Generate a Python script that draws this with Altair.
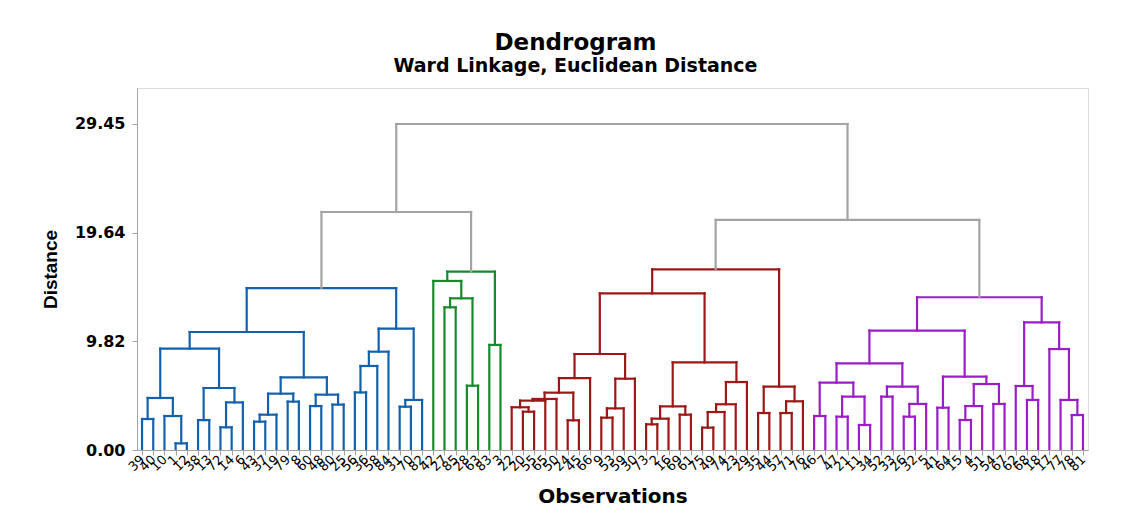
import altair as alt
import pandas as pd

# ---------------- data ----------------
blue_labels = [39, 40, 10, 1, 12, 38, 13, 72, 14, 6, 43, 37, 19, 79, 8, 60, 48, 80, 25, 56, 36, 58, 84, 31, 70, 82]
green_labels = [42, 27, 85, 28, 63, 83, 3]
red_labels = [22, 20, 55, 65, 50, 24, 45, 66, 9, 53, 59, 30, 73, 2, 16, 69, 61, 75, 49, 74, 23, 29, 35, 44, 57, 71, 76]
purple_labels = [46, 7, 47, 21, 11, 34, 52, 33, 26, 32, 5, 41, 64, 15, 4, 51, 54, 67, 62, 68, 18, 17, 77, 78, 81]
leaf_labels = blue_labels + green_labels + red_labels + purple_labels

# merges: (name, left child, right child, height); ints are leaf positions
blue_merges = [
    ("B1", 0, 1, 2.80), ("B2", 3, 4, 0.60), ("B3", 2, "B2", 3.07), ("B4", "B1", "B3", 4.70),
    ("B5", 5, 6, 2.70), ("B6", 7, 8, 2.05), ("B7", "B6", 9, 4.30), ("B8", "B5", "B7", 5.60),
    ("B9", "B4", "B8", 9.15), ("B10", 10, 11, 2.56), ("B11", "B10", 12, 3.19), ("B12", 13, 14, 4.37),
    ("B13", "B11", "B12", 5.09), ("B14", 15, 16, 3.97), ("B15", 17, 18, 4.10), ("B16", "B14", "B15", 5.00),
    ("B17", "B13", "B16", 6.56), ("B18", "B9", "B17", 10.66), ("B19", 19, 20, 5.20), ("B20", "B19", 21, 7.59),
    ("B21", "B20", 22, 8.88), ("B22", 23, 24, 3.91), ("B23", "B22", 25, 4.52), ("B24", "B21", "B23", 10.96),
    ("B25", "B18", "B24", 14.63),
]
green_merges = [
    ("G1", 27, 28, 12.89), ("G2", 29, 30, 5.81), ("G3", "G1", "G2", 13.70), ("G4", 26, "G3", 15.27),
    ("G5", 31, 32, 9.49), ("G6", "G4", "G5", 16.11),
]
red_merges = [
    ("R1", 34, 35, 3.46), ("R2", 33, "R1", 3.86), ("R3", "R2", 36, 4.46), ("R4", "R3", 37, 4.61),
    ("R5", 38, 39, 2.68), ("R6", "R4", "R5", 5.18), ("R7", "R6", 40, 6.50), ("R8", 41, 42, 2.92),
    ("R9", "R8", 43, 3.76), ("R10", "R9", 44, 6.44), ("R11", "R7", "R10", 8.67), ("R12", 45, 46, 2.32),
    ("R13", "R12", 47, 2.83), ("R14", 48, 49, 3.19), ("R15", "R13", "R14", 3.94), ("R16", 50, 51, 2.02),
    ("R17", "R16", 52, 3.43), ("R18", "R17", 53, 4.13), ("R19", "R18", 54, 6.14), ("R20", "R15", "R19", 7.92),
    ("R21", "R11", "R20", 14.15), ("R22", 55, 56, 3.34), ("R23", 57, 58, 3.34), ("R24", "R23", 59, 4.40),
    ("R25", "R22", "R24", 5.72), ("R26", "R21", "R25", 16.32),
]
purple_merges = [
    ("P1", 60, 61, 3.07), ("P2", 62, 63, 3.01), ("P3", 64, 65, 2.26), ("P4", "P2", "P3", 4.82),
    ("P5", "P1", "P4", 6.08), ("P6", 66, 67, 4.82), ("P7", 68, 69, 3.01), ("P8", "P7", 70, 4.16),
    ("P9", "P6", "P8", 5.72), ("P10", "P5", "P9", 7.83), ("P11", 71, 72, 3.82), ("P12", 73, 74, 2.71),
    ("P13", "P12", 75, 3.97), ("P14", 76, 77, 4.16), ("P15", "P13", "P14", 5.96), ("P16", "P11", "P15", 6.62),
    ("P17", "P10", "P16", 10.78), ("P18", 79, 80, 4.52), ("P19", 78, "P18", 5.78), ("P20", 83, 84, 3.16),
    ("P21", 82, "P20", 4.52), ("P22", 81, "P21", 9.12), ("P23", "P19", "P22", 11.53), ("P24", "P17", "P23", 13.80),
]
top_merges = [
    ("T1", "B25", "G6", 21.50), ("T2", "R26", "P24", 20.78), ("T3", "T1", "T2", 29.45),
]

groups = ["blue", "green", "red", "purple", "top"]
group_colors = ["#1560ad", "#178a2c", "#9c1717", "#9a1dc6", "#a3a3a3"]
y_ticks = [0.0, 9.82, 19.64, 29.45]

# ---------------- build segments ----------------
nodes = {}
rows = []


def node(ref):
    if isinstance(ref, int):
        return float(ref), 0.0
    return nodes[ref]


for grp, mlist in zip(groups, [blue_merges, green_merges, red_merges, purple_merges, top_merges]):
    for name, a, b, h in mlist:
        xa, ha = node(a)
        xb, hb = node(b)
        rows.append(dict(x=xa, x2=xa, y=ha, y2=h, grp=grp))
        rows.append(dict(x=xb, x2=xb, y=hb, y2=h, grp=grp))
        rows.append(dict(x=xa, x2=xb, y=h, y2=h, grp=grp))
        nodes[name] = ((xa + xb) / 2.0, h)

df = pd.DataFrame(rows)
n = len(leaf_labels)
label_expr = "[" + ",".join("'%d'" % v for v in leaf_labels) + "][datum.value]"

chart = alt.Chart(df).mark_rule(strokeWidth=2.2, strokeCap="square", clip=True).encode(
    x=alt.X("x:Q",
            scale=alt.Scale(domain=[-0.45, n - 1 + 0.45], nice=False, zero=False),
            axis=alt.Axis(values=list(range(n)), labelExpr=label_expr, labelAngle=-45,
                          labelAlign="right", labelBaseline="middle", labelOverlap=False,
                          labelFont="DejaVu Sans", labelFontSize=13, labelColor="black",
                          labelPadding=2, tickSize=5, tickColor="#a3a3a3", domainColor="#a3a3a3",
                          grid=False, title="Observations", titleFont="DejaVu Sans",
                          titleFontSize=20, titleFontWeight="bold", titleColor="black",
                          titlePadding=13)),
    x2="x2:Q",
    y=alt.Y("y:Q",
            scale=alt.Scale(domain=[0, 32.7], nice=False, zero=True),
            axis=alt.Axis(values=y_ticks, format=".2f", labelFont="DejaVu Sans",
                          labelFontSize=16, labelFontWeight="bold", labelColor="black",
                          labelPadding=7, tickSize=5, tickColor="#a3a3a3", domainColor="#a3a3a3",
                          grid=False, title="Distance", titleFont="Liberation Sans",
                          titleFontSize=19, titleFontWeight="bold", titleColor="black",
                          titlePadding=14)),
    y2="y2:Q",
    color=alt.Color("grp:N", scale=alt.Scale(domain=groups, range=group_colors), legend=None),
).properties(
    width=951,
    height=362,
    title=alt.TitleParams(text="Dendrogram", subtitle="Ward Linkage, Euclidean Distance",
                          anchor="middle", dx=-37, font="DejaVu Sans", fontSize=23,
                          fontWeight="bold", color="black", subtitleFont="DejaVu Sans",
                          subtitleFontSize=19, subtitleFontWeight="bold", subtitleColor="black",
                          subtitlePadding=2, offset=12),
    autosize=alt.AutoSizeParams(type="none"),
    padding={"left": 129, "top": 80, "right": 40, "bottom": 60},
).configure_view(stroke="#a3a3a3", strokeWidth=1).configure(background="white")

chart.save("out.html", embed_options={"renderer": "svg", "actions": False})
